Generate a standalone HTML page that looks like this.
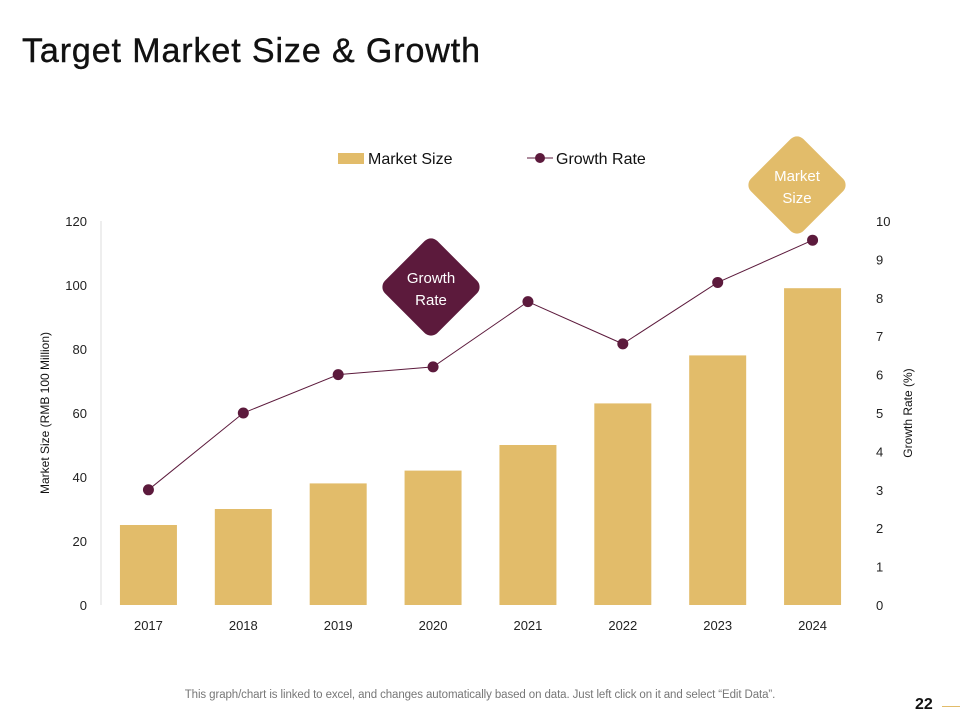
<!DOCTYPE html>
<html><head><meta charset="utf-8">
<style>
body{margin:0;width:960px;height:720px;background:#fff;font-family:"Liberation Sans",sans-serif;overflow:hidden;position:relative}
#title{position:absolute;left:22px;top:32px;font-size:34px;color:#111;margin:0;font-weight:normal;letter-spacing:0.9px;-webkit-text-stroke:0.4px #111}
#foot{position:absolute;left:0;width:960px;top:689px;text-align:center;font-size:11.5px;color:#777;letter-spacing:-0.1px}
#pg{position:absolute;left:915px;top:696px;font-size:16px;font-weight:bold;color:#111}
#pgline{position:absolute;left:942px;top:706px;width:18px;height:1px;background:#e2bc6a}
svg{position:absolute;left:0;top:0}
</style></head><body>
<h1 id="title">Target Market Size &amp; Growth</h1>
<svg id="chart" width="960" height="720"></svg>
<div id="foot">This graph/chart is linked to excel, and changes automatically based on data. Just left click on it and select “Edit Data”.</div>
<div id="pg">22</div>
<div id="pgline"></div>
<script>
const categories=["2017","2018","2019","2020","2021","2022","2023","2024"];
const marketSize=[25,30,38,42,50,63,78,99];
const growthRate=[3.0,5.0,6.0,6.2,7.9,6.8,8.4,9.5];
const leftTicks=[0,20,40,60,80,100,120];
const rightTicks=[0,1,2,3,4,5,6,7,8,9,10];
const NS="http://www.w3.org/2000/svg";
const svg=document.getElementById('chart');
const X0=101,X1=860,Y0=605,Y1=221;
const band=(X1-X0)/categories.length;
const xc=i=>X0+band*(i+0.5);
const yL=v=>Y0-(v/120)*(Y0-Y1);
const yR=v=>Y0-(v/10)*(Y0-Y1);
function mk(t,a,txt){const e=document.createElementNS(NS,t);for(const k in a)e.setAttribute(k,a[k]);if(txt!==undefined)e.textContent=txt;svg.appendChild(e);return e;}
let e;
e=mk('line',{x1:X0,y1:Y1,x2:X0,y2:Y0,stroke:'#ddd','stroke-width':1});


leftTicks.forEach(v=>{e=mk('text',{x:87,y:yL(v)+5,'text-anchor':'end','font-size':13,fill:'#222'},v);

});
rightTicks.forEach(v=>{e=mk('text',{x:876,y:yR(v)+5,'font-size':13,fill:'#222'},v);

});
categories.forEach((c,i)=>{
e=mk('rect',{x:xc(i)-28.5,y:yL(marketSize[i]),width:57,height:Y0-yL(marketSize[i]),fill:'#e2bc6a'});


e=mk('text',{x:xc(i),y:630,'text-anchor':'middle','font-size':13,fill:'#222'},c);


});
e=mk('polyline',{points:growthRate.map((v,i)=>xc(i)+','+yR(v)).join(' '),fill:'none',stroke:'#5c1a3c','stroke-width':1});


growthRate.forEach((v,i)=>{e=mk('circle',{cx:xc(i),cy:yR(v),r:5.5,fill:'#5c1a3c'});

});
e=mk('text',{x:49,y:413,'text-anchor':'middle','font-size':12,fill:'#111',transform:'rotate(-90 49 413)'},'Market Size (RMB 100 Million)');


e=mk('text',{x:912,y:413,'text-anchor':'middle','font-size':12,fill:'#111',transform:'rotate(-90 912 413)'},'Growth Rate (%)');


e=mk('rect',{x:338,y:153,width:26,height:11,fill:'#e2bc6a'});


e=mk('text',{x:368,y:164,'font-size':16,fill:'#111'},'Market Size');


e=mk('line',{x1:527,y1:158,x2:553,y2:158,stroke:'#5c1a3c','stroke-width':1});


e=mk('circle',{cx:540,cy:158,r:5,fill:'#5c1a3c'});


e=mk('text',{x:556,y:164,'font-size':16,fill:'#111'},'Growth Rate');


function diamond(cx,cy,fill,l1,l2,name){
 e=mk('rect',{x:cx-37,y:cy-37,width:74,height:74,rx:9,fill:fill,transform:`rotate(45 ${cx} ${cy})`});
 
 
 e=mk('text',{x:cx,y:cy-4,'text-anchor':'middle','font-size':15,fill:'#fff'},l1);
 
 
 e=mk('text',{x:cx,y:cy+18,'text-anchor':'middle','font-size':15,fill:'#fff'},l2);
 
 
}
diamond(431,287,'#5c1a3c','Growth','Rate','growth-rate-callout');
diamond(797,185,'#e2bc6a','Market','Size','market-size-callout');
</script>
</body></html>
